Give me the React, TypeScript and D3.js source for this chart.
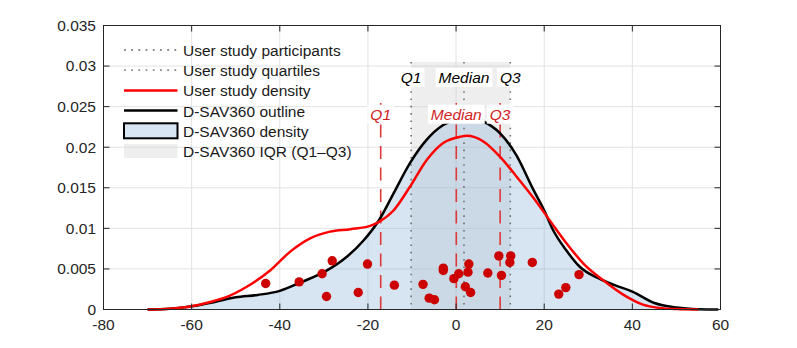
import React, { useRef, useEffect } from "react";
import * as d3 from "d3";

const W = 797;
const H = 348;
const FONT = "'Liberation Sans', Arial, Helvetica, sans-serif";

const xTicks = [-80, -60, -40, -20, 0, 20, 40, 60];
const yTicks = [0, 0.005, 0.01, 0.015, 0.02, 0.025, 0.03, 0.035];
const yTickLabels = ["0", "0.005", "0.01", "0.015", "0.02", "0.025", "0.03", "0.035"];

// D-SAV360 density (outline + fill)
const datasetX = [-70, -65, -60, -55, -50, -45, -40, -35, -30, -25, -21, -17.5, -14, -10.5, -6.7, -3, 0, 2.4, 6, 10, 13.7, 17.5, 20, 22, 25, 28, 32.5, 36, 40, 45, 50, 55, 59.5];
const datasetY = [0, 0.0001, 0.0004, 0.0009, 0.0015, 0.0018, 0.0023, 0.0034, 0.0046, 0.0064, 0.0085, 0.011, 0.0145, 0.018, 0.0209, 0.0227, 0.0234, 0.0236, 0.0232, 0.0217, 0.019, 0.0148, 0.0122, 0.0098, 0.0073, 0.0053, 0.0038, 0.003, 0.0022, 0.0008, 0.00025, 0.00004, 0];

// user study density
const userX = [-70, -65, -60, -56, -52, -47.5, -42.2, -37.7, -33, -28.6, -24, -19.5, -17.5, -14.2, -10.5, -6.7, -3, 1, 2.4, 6.2, 10, 13.7, 17.5, 21.5, 25, 29, 33.4, 38, 42.4, 46, 50, 55];
const userY = [0, 0.0001, 0.0004, 0.0009, 0.00155, 0.0028, 0.0048, 0.0071, 0.0088, 0.0096, 0.0099, 0.0103, 0.0108, 0.0122, 0.0151, 0.0184, 0.0205, 0.0213, 0.0214, 0.0207, 0.0188, 0.0164, 0.0138, 0.0108, 0.0082, 0.0056, 0.0036, 0.0018, 0.0006, 0.0002, 0.00005, 0];

// participants
const participantX = [-43.2, -35.6, -30.4, -28.1, -29.4, -22.2, -20.1, -14.0, -7.5, -6.1, -4.9, -2.9, -2.9, -0.5, 0.6, 2.9, 2.7, 2.1, 3.3, 7.2, 9.7, 10.3, 12.4, 12.2, 17.3, 23.3, 24.9, 27.9];
const participantY = [0.0032, 0.0034, 0.0044, 0.006, 0.0016, 0.0021, 0.0056, 0.003, 0.0031, 0.0014, 0.0012, 0.0051, 0.0048, 0.0038, 0.0044, 0.0056, 0.0046, 0.0028, 0.0021, 0.0045, 0.0066, 0.0042, 0.0066, 0.0058, 0.0058, 0.0019, 0.0027, 0.0043];

const userQuartiles = [-17.1, 0.05, 10.0];
const datasetQuartiles = [-10.2, 1.8, 12.3];
const quartileLabels = ["Q1", "Median", "Q3"];

const legendLabels = [
  "User study participants",
  "User study quartiles",
  "User study density",
  "D-SAV360 outline",
  "D-SAV360 density",
  "D-SAV360 IQR (Q1\u2013Q3)",
];

const App = () => {
  const ref = useRef<SVGSVGElement>(null);

  useEffect(() => {
    const svg = d3.select(ref.current);
    svg.selectAll("*").remove();

    const x = d3.scaleLinear().domain([-80, 60]).range([103.5, 720.5]);
    const y = d3.scaleLinear().domain([0, 0.035]).range([309.5, 25.5]);
    const [x0, x1] = x.range();
    const [yb, yt] = y.range();

    // grid
    const grid = svg.append("g").attr("stroke", "#e2e2e2").attr("stroke-width", 1);
    grid.selectAll(".gx").data(xTicks.slice(1, -1)).enter().append("line")
      .attr("x1", (d) => x(d)).attr("x2", (d) => x(d)).attr("y1", yt).attr("y2", yb);
    grid.selectAll(".gy").data(yTicks.slice(1, -1)).enter().append("line")
      .attr("x1", x0).attr("x2", x1).attr("y1", (d) => y(d)).attr("y2", (d) => y(d));

    // IQR band
    const qTop = 0.0305;
    svg.append("rect")
      .attr("x", x(datasetQuartiles[0])).attr("width", x(datasetQuartiles[2]) - x(datasetQuartiles[0]))
      .attr("y", y(qTop)).attr("height", y(0) - y(qTop))
      .attr("fill", "#cfcfcf").attr("fill-opacity", 0.35);

    const dsPts = datasetX.map((d, i) => [d, datasetY[i]] as [number, number]);
    const usPts = userX.map((d, i) => [d, userY[i]] as [number, number]);

    const area = d3.area<[number, number]>()
      .x((d) => x(d[0])).y0(y(0)).y1((d) => y(d[1]))
      .curve(d3.curveMonotoneX);
    svg.append("path").attr("d", area(dsPts)).attr("fill", "rgb(120,170,210)").attr("fill-opacity", 0.3);

    // dataset quartiles (dotted)
    svg.append("g").selectAll("line").data(datasetQuartiles).enter().append("line")
      .attr("x1", (d) => x(d)).attr("x2", (d) => x(d)).attr("y1", y(qTop)).attr("y2", y(0))
      .attr("stroke", "#707070").attr("stroke-width", 1.6).attr("stroke-dasharray", "1.6 5.7");

    // user quartiles (dashed)
    const uqTop = 0.0261;
    svg.append("g").selectAll("line").data(userQuartiles).enter().append("line")
      .attr("x1", (d) => x(d)).attr("x2", (d) => x(d)).attr("y1", y(0)).attr("y2", y(uqTop))
      .attr("stroke", "#dc3a3a").attr("stroke-width", 1.6).attr("stroke-dasharray", "13 8.5");

    const line = d3.line<[number, number]>()
      .x((d) => x(d[0])).y((d) => y(d[1]))
      .curve(d3.curveMonotoneX);
    svg.append("path").attr("d", line(dsPts)).attr("fill", "none").attr("stroke", "#000").attr("stroke-width", 2.5);
    svg.append("path").attr("d", line(usPts)).attr("fill", "none").attr("stroke", "#ff0000").attr("stroke-width", 2.5);

    // participants
    svg.append("g").selectAll("circle").data(participantX).enter().append("circle")
      .attr("cx", (d) => x(d)).attr("cy", (d, i) => y(participantY[i])).attr("r", 4.7)
      .attr("fill", "#cc0000");

    // quartile labels
    const addLabel = (tx: number, cy: number, text: string, color: string) => {
      const g = svg.append("g");
      const rect = g.append("rect").attr("fill", "#fff");
      const t = g.append("text").attr("x", tx).attr("y", cy).attr("dy", "0.35em")
        .attr("text-anchor", "middle").attr("font-family", FONT).attr("font-size", 15.5)
        .attr("font-style", "italic").attr("fill", color).text(text);
      const w = (t.node() as SVGTextElement).getComputedTextLength();
      rect.attr("x", tx - w / 2 - 3).attr("width", w + 6).attr("y", cy - 9.5).attr("height", 19);
    };
    datasetQuartiles.forEach((q, i) => addLabel(x(q), y(qTop) + 15.5, quartileLabels[i], "#000"));
    userQuartiles.forEach((q, i) => addLabel(x(q), y(uqTop) + 16.5, quartileLabels[i], "#d01c1c"));

    // axes box
    const ax = svg.append("g").attr("stroke", "#262626").attr("stroke-width", 1).attr("fill", "none");
    ax.append("rect").attr("x", x0).attr("y", yt).attr("width", x1 - x0).attr("height", yb - yt);
    xTicks.forEach((t) => {
      ax.append("line").attr("x1", x(t)).attr("x2", x(t)).attr("y1", yb).attr("y2", yb - 6);
      ax.append("line").attr("x1", x(t)).attr("x2", x(t)).attr("y1", yt).attr("y2", yt + 6);
    });
    yTicks.forEach((t) => {
      ax.append("line").attr("x1", x0).attr("x2", x0 + 6).attr("y1", y(t)).attr("y2", y(t));
      ax.append("line").attr("x1", x1).attr("x2", x1 - 6).attr("y1", y(t)).attr("y2", y(t));
    });

    const labels = svg.append("g").attr("font-family", FONT).attr("font-size", 15.5).attr("fill", "#262626");
    labels.selectAll(".xl").data(xTicks).enter().append("text")
      .attr("x", (d) => x(d)).attr("y", 330).attr("text-anchor", "middle").text((d) => String(d));
    labels.selectAll(".yl").data(yTicks).enter().append("text")
      .attr("x", 96).attr("y", (d) => y(d)).attr("dy", "0.35em").attr("text-anchor", "end")
      .text((d, i) => yTickLabels[i]);

    // legend
    const lg = svg.append("g");
    const lx0 = 124, lx1 = 177.5, rowY = (i: number) => 50 + i * 20.2;
    lg.append("line").attr("x1", lx0).attr("x2", lx1).attr("y1", rowY(0)).attr("y2", rowY(0))
      .attr("stroke", "#8a8a8a").attr("stroke-width", 1.8).attr("stroke-dasharray", "1.8 5.4");
    lg.append("line").attr("x1", lx0).attr("x2", lx1).attr("y1", rowY(1)).attr("y2", rowY(1))
      .attr("stroke", "#8a8a8a").attr("stroke-width", 1.8).attr("stroke-dasharray", "1.8 5.4");
    lg.append("line").attr("x1", lx0).attr("x2", lx1).attr("y1", rowY(2)).attr("y2", rowY(2))
      .attr("stroke", "#ff0000").attr("stroke-width", 2.5);
    lg.append("line").attr("x1", lx0).attr("x2", lx1).attr("y1", rowY(3)).attr("y2", rowY(3))
      .attr("stroke", "#000").attr("stroke-width", 2.5);
    lg.append("rect").attr("x", lx0).attr("y", rowY(4) - 7.5).attr("width", lx1 - lx0).attr("height", 15)
      .attr("fill", "#d7e6f2").attr("stroke", "#000").attr("stroke-width", 2);
    lg.append("rect").attr("x", lx0).attr("y", rowY(5) - 7).attr("width", lx1 - lx0).attr("height", 14)
      .attr("fill", "#cfcfcf").attr("fill-opacity", 0.35);
    lg.selectAll("text").data(legendLabels).enter().append("text")
      .attr("x", 183).attr("y", (d, i) => rowY(i) + 6)
      .attr("font-family", FONT).attr("font-size", 15.5).attr("fill", "#1a1a1a")
      .text((d) => d);
  }, []);

  return (
    <div style={{ position: "absolute", left: 0, top: 0 }}>
      <svg ref={ref} width={W} height={H} style={{ display: "block", background: "#fff" }}></svg>
    </div>
  );
};

export default App;
